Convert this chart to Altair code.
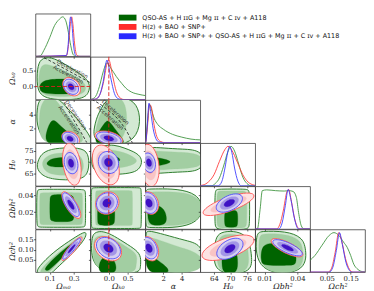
import math
import altair as alt
import pandas as pd

# ---------------- axes ----------------
TITLES = ["Ωₘ₀", "Ωₖ₀", "α", "H₀", "Ωbh²", "Ωch²"]
X_DOMAINS = [[-0.02, 0.44], [-0.49, 0.97], [0.05, 6.0], [59.0, 79.0], [0.0015, 0.0515], [-0.02, 0.21]]
Y_DOMAINS = [[0.0, 1.08], [-0.40, 0.91], [0.0, 6.0], [59.3, 78.5], [0.0, 0.051], [-0.01, 0.20]]
X_TICKS = [[0.1, 0.3], [0.0, 0.5], [2, 4], [64, 70, 76], [0.01, 0.04], [0.05, 0.15]]
Y_TICKS = [[0.5], [0.0, 0.5], [2, 4], [65, 70, 75], [0.02, 0.04], [0.05, 0.10, 0.15]]
X_FMT = [".1f", ".1f", "d", "d", ".2f", ".2f"]
Y_FMT = [".1f", ".1f", "d", "d", ".2f", ".2f"]

LEGEND_LABELS = [
    "QSO-AS + H ɪɪG + Mg ɪɪ + C ɪᴠ + A118",
    "H(z) + BAO + SNP+",
    "H(z) + BAO + SNP+ + QSO-AS + H ɪɪG + Mg ɪɪ + C ɪᴠ + A118",
]
LEGEND_COLORS = ["#006400", "#ff2a2a", "#2a2aff"]

# ---------------- 1D marginals ----------------
OM_G_X = [-0.02, 0.02, 0.05, 0.10, 0.14, 0.18, 0.208, 0.234, 0.256, 0.275, 0.295, 0.316, 0.44]
OM_G_Y = [0.0, 0.01, 0.15, 0.48, 0.78, 0.94, 1.0, 0.9, 0.6, 0.28, 0.05, 0.0, 0.0]
OM_R_X = [-0.02, 0.24, 0.257, 0.27, 0.283, 0.294, 0.305, 0.317, 0.33, 0.35, 0.44]
OM_R_Y = [0.0, 0.02, 0.3, 0.75, 1.0, 0.8, 0.4, 0.12, 0.02, 0.0, 0.0]
OM_B_X = [-0.02, 0.238, 0.254, 0.265, 0.275, 0.286, 0.297, 0.309, 0.321, 0.44]
OM_B_Y = [0.0, 0.02, 0.3, 0.8, 1.0, 0.8, 0.35, 0.08, 0.0, 0.0]

OK_G_X = [-0.49, -0.45, -0.35, -0.25, -0.15, -0.05, 0.05, 0.20, 0.35, 0.45, 0.60, 0.80, 0.97]
OK_G_Y = [0.0, 0.01, 0.08, 0.33, 0.7, 0.93, 0.8, 0.58, 0.4, 0.29, 0.19, 0.13, 0.1]
OK_R_X = [-0.49, -0.35, -0.25, -0.15, -0.05, 0.0, 0.1, 0.2, 0.3, 0.4, 0.97]
OK_R_Y = [0.0, 0.01, 0.1, 0.4, 0.9, 1.0, 0.6, 0.2, 0.04, 0.0, 0.0]
OK_B_X = [-0.49, -0.35, -0.25, -0.15, -0.05, 0.05, 0.15, 0.25, 0.35, 0.97]
OK_B_Y = [0.0, 0.01, 0.1, 0.45, 1.0, 0.55, 0.15, 0.02, 0.0, 0.0]

AL_G_X = [0.05, 0.1, 0.3, 0.5, 0.7, 1.0, 1.4, 2.0, 3.0, 4.0, 5.0, 6.0]
AL_G_Y = [0.0, 0.05, 0.55, 0.97, 0.85, 0.62, 0.46, 0.34, 0.21, 0.14, 0.09, 0.07]
AL_R_X = [0.05, 0.1, 0.3, 0.5, 0.7, 1.0, 1.3, 1.7, 2.2, 6.0]
AL_R_Y = [0.0, 0.02, 0.45, 0.97, 0.9, 0.45, 0.15, 0.03, 0.0, 0.0]
AL_B_X = [0.05, 0.1, 0.25, 0.45, 0.65, 0.9, 1.2, 1.5, 2.0, 6.0]
AL_B_Y = [0.0, 0.02, 0.4, 1.0, 0.75, 0.35, 0.1, 0.02, 0.0, 0.0]

H0_G_X = [59, 63, 64.5, 66, 67.5, 69, 70.2, 71.5, 73, 74.5, 76, 77.5, 79]
H0_G_Y = [0, 0, 0.06, 0.2, 0.5, 0.85, 1.0, 0.88, 0.55, 0.22, 0.06, 0.0, 0]
H0_R_X = [59, 60, 62, 64, 66, 68, 69.1, 70.5, 72.5, 74.5, 76.5, 78.5, 79]
H0_R_Y = [0.01, 0.02, 0.1, 0.28, 0.62, 0.92, 1.0, 0.9, 0.6, 0.28, 0.09, 0.02, 0.01]
H0_B_X = [59, 65.5, 66.8, 68, 69, 69.7, 70.5, 71.5, 72.7, 74, 79]
H0_B_Y = [0, 0, 0.1, 0.45, 0.85, 1.0, 0.85, 0.45, 0.12, 0, 0]

OB_G_X = [0.0015, 0.0035, 0.006, 0.008, 0.012, 0.02, 0.028, 0.032, 0.036, 0.039, 0.041, 0.0435, 0.046, 0.0515]
OB_G_Y = [0, 0, 0.5, 0.97, 0.99, 0.97, 0.96, 0.97, 0.95, 0.8, 0.42, 0.08, 0, 0]
OB_R_X = [0.0015, 0.021, 0.024, 0.027, 0.0305, 0.032, 0.0345, 0.0375, 0.0405, 0.042, 0.0515]
OB_R_Y = [0, 0, 0.12, 0.45, 0.95, 1.0, 0.7, 0.25, 0.03, 0, 0]
OB_B_X = [0.0015, 0.023, 0.026, 0.029, 0.0315, 0.034, 0.037, 0.0395, 0.041, 0.0515]
OB_B_Y = [0, 0, 0.15, 0.6, 1.0, 0.75, 0.3, 0.05, 0, 0]

OC_G_X = [-0.02, 0.0, 0.03, 0.06, 0.08, 0.1, 0.12, 0.136, 0.15, 0.163, 0.18, 0.2, 0.21]
OC_G_Y = [0.3, 0.42, 0.68, 0.93, 1.0, 0.93, 0.76, 0.62, 0.42, 0.2, 0.07, 0.01, 0]
OC_R_X = [-0.02, 0.055, 0.07, 0.085, 0.1, 0.112, 0.128, 0.145, 0.16, 0.21]
OC_R_Y = [0, 0, 0.1, 0.5, 1.0, 0.8, 0.35, 0.07, 0, 0]
OC_B_X = [-0.02, 0.06, 0.075, 0.09, 0.103, 0.115, 0.13, 0.145, 0.155, 0.21]
OC_B_Y = [0, 0, 0.12, 0.55, 1.0, 0.7, 0.25, 0.04, 0, 0]

# ---------------- 2D: green contours (outer, middle, inner) ----------------
G_OM_OK = [
    [[0.02, 0.86], [0.11, 0.92], [0.23, 0.68], [0.36, 0.38], [0.44, 0.12], [0.43, -0.2], [0.37, -0.42], [0.03, -0.42], [-0.01, 0.03], [-0.005, 0.55]],
    [[0.04, 0.74], [0.153, 0.59], [0.28, 0.38], [0.38, 0.17], [0.41, -0.03], [0.38, -0.3], [0.06, -0.34], [0.0, -0.07], [0.01, 0.45]],
    [[0.025, 0.19], [0.18, 0.24], [0.31, 0.21], [0.355, 0.08], [0.355, -0.13], [0.29, -0.24], [0.04, -0.24], [0.01, -0.07]],
]
G_OM_AL = [
    [[-0.012, 5.4], [0.03, 6.4], [0.17, 6.4], [0.23, 5.1], [0.31, 3.8], [0.42, 1.4], [0.45, 0.4], [0.45, -0.5], [-0.012, -0.5]],
    [[0.02, 5.2], [0.07, 6.4], [0.14, 6.4], [0.2, 4.8], [0.29, 3.0], [0.37, 1.3], [0.4, -0.5], [0.01, -0.5], [0.01, 3.0]],
    [[0.055, -0.5], [0.07, 1.5], [0.1, 2.8], [0.13, 3.3], [0.17, 2.7], [0.26, 1.3], [0.34, 0.3], [0.35, -0.5]],
]
G_OK_AL = [
    [[-0.44, -0.5], [-0.39, 2.4], [-0.28, 4.1], [-0.15, 5.3], [0.0, 6.4], [0.86, 6.4], [0.86, -0.5]],
    [[-0.41, -0.5], [-0.34, 2.2], [-0.22, 4.2], [-0.06, 5.8], [0.05, 6.4], [0.5, 6.4], [0.5, -0.5]],
    [[-0.42, -0.5], [-0.32, 1.2], [-0.12, 2.7], [-0.03, 3.3], [0.1, 2.4], [0.3, 1.0], [0.52, -0.5]],
]
G_OM_H0 = [
    [[0.0, 70.4], [0.028, 73.6], [0.1, 75.9], [0.262, 76.6], [0.405, 76.0], [0.432, 71.1], [0.422, 64.3], [0.345, 61.8], [0.12, 62.0], [0.025, 64.3], [-0.01, 67.5]],
    [[0.028, 69.7], [0.07, 72.7], [0.153, 74.1], [0.316, 74.4], [0.375, 71.9], [0.39, 66.8], [0.345, 64.0], [0.126, 64.0], [0.055, 66.0]],
    [[0.068, 69.7], [0.126, 72.1], [0.29, 72.1], [0.325, 69.7], [0.29, 67.7], [0.126, 67.7], [0.082, 68.4]],
]
G_OK_H0 = [
    [[-0.47, 71.2], [-0.38, 75.7], [-0.16, 77.5], [0.144, 77.8], [0.404, 76.4], [0.663, 74.7], [0.84, 72.7], [0.89, 69.8], [0.8, 66.4], [0.575, 64.9], [0.144, 64.3], [-0.21, 64.6], [-0.44, 66.9]],
    [[-0.38, 70.9], [-0.25, 75.2], [-0.03, 75.9], [0.404, 74.5], [0.75, 71.6], [0.75, 69.5], [0.404, 67.4], [-0.116, 66.6], [-0.334, 68.1]],
    [[-0.1, 72.6], [0.2, 72.6], [0.34, 71.1], [0.2, 69.3], [-0.1, 69.3]],
]
G_AL_H0 = [
    [[0.1, 72.0], [0.2, 75.6], [0.5, 76.8], [2.0, 76.3], [4.0, 75.8], [6.4, 75.4], [6.4, 65.9], [4.0, 65.6], [2.0, 65.1], [0.5, 64.6], [0.15, 66.5]],
    [[0.2, 71.0], [0.3, 74.3], [1.0, 75.1], [3.0, 74.5], [6.4, 74.0], [6.4, 67.3], [3.0, 66.9], [1.0, 66.2], [0.3, 66.7]],
    [[0.1, 70.0], [0.3, 72.3], [1.2, 72.1], [2.2, 71.3], [3.0, 70.1], [2.2, 68.9], [1.2, 68.1], [0.3, 67.9]],
]
G_OM_OB = [
    [[-0.01, 0.043], [0.0, 0.047], [0.02, 0.0475], [0.37, 0.0475], [0.395, 0.0465], [0.4, 0.043], [0.4, 0.007], [0.395, 0.0025], [0.37, 0.002], [0.02, 0.002], [0.0, 0.0025], [-0.01, 0.007]],
    [[0.015, 0.04], [0.02, 0.043], [0.04, 0.0435], [0.35, 0.0435], [0.37, 0.043], [0.375, 0.04], [0.375, 0.009], [0.37, 0.0055], [0.35, 0.005], [0.04, 0.005], [0.02, 0.0055], [0.015, 0.009]],
    [[0.1, 0.038], [0.11, 0.0415], [0.29, 0.0415], [0.305, 0.037], [0.305, 0.012], [0.29, 0.0085], [0.11, 0.0085], [0.1, 0.012]],
]
G_OK_OB = [
    [[-0.47, 0.045], [-0.45, 0.049], [-0.4, 0.0495], [0.8, 0.0495], [0.85, 0.049], [0.865, 0.045], [0.865, 0.005], [0.85, 0.001], [0.8, 0.0005], [-0.4, 0.0005], [-0.45, 0.001], [-0.47, 0.005]],
    [[-0.36, 0.042], [-0.34, 0.0455], [-0.3, 0.046], [0.58, 0.046], [0.62, 0.0455], [0.63, 0.042], [0.63, 0.008], [0.62, 0.0045], [0.58, 0.004], [-0.3, 0.004], [-0.34, 0.0045], [-0.36, 0.008]],
    [[-0.3, 0.026], [-0.28, 0.03], [0.12, 0.03], [0.16, 0.026], [0.16, 0.008], [0.12, 0.004], [-0.28, 0.004], [-0.3, 0.008]],
]
G_AL_OB = [
    [[0.08, 0.006], [0.08, 0.044], [0.2, 0.0475], [0.6, 0.048], [6.4, 0.048], [6.4, 0.0015], [0.6, 0.0015], [0.2, 0.002]],
    [[0.2, 0.008], [0.2, 0.041], [0.4, 0.044], [1.0, 0.0445], [6.4, 0.0445], [6.4, 0.004], [1.0, 0.004], [0.4, 0.0045]],
    [[0.3, 0.006], [0.3, 0.026], [0.6, 0.029], [1.6, 0.028], [2.2, 0.022], [2.4, 0.012], [2.2, 0.005], [1.2, 0.004]],
]
G_H0_OB = [
    [[64.3, 0.044], [64.8, 0.047], [66.0, 0.0478], [75.0, 0.0478], [76.5, 0.047], [77.0, 0.044], [77.0, 0.003], [76.5, -0.001], [64.8, -0.001], [64.3, 0.003]],
    [[65.0, 0.042], [65.5, 0.045], [66.5, 0.0455], [74.5, 0.0455], [75.5, 0.045], [76.0, 0.042], [76.0, 0.004], [75.5, 0.0005], [65.5, 0.0005], [65.0, 0.004]],
    [[67.8, 0.02], [68.5, 0.0225], [72.0, 0.0225], [72.7, 0.02], [72.7, 0.004], [72.0, 0.002], [68.5, 0.002], [67.8, 0.004]],
]
G_OM_OC = [
    [[-0.02, -0.02], [0.004, 0.016], [0.126, 0.087], [0.262, 0.143], [0.37, 0.183], [0.405, 0.188], [0.405, 0.165], [0.345, 0.115], [0.234, 0.051], [0.13, -0.005], [0.11, -0.02]],
    [[0.01, -0.02], [0.03, 0.01], [0.15, 0.077], [0.29, 0.14], [0.37, 0.172], [0.38, 0.16], [0.3, 0.115], [0.17, 0.04], [0.09, -0.02]],
    [[0.055, 0.0], [0.07, 0.018], [0.15, 0.068], [0.3, 0.14], [0.325, 0.133], [0.25, 0.088], [0.13, 0.018], [0.085, -0.005]],
]
G_OK_OC = [
    [[-0.47, -0.02], [-0.47, 0.16], [-0.38, 0.185], [-0.2, 0.193], [0.055, 0.178], [0.404, 0.137], [0.75, 0.097], [0.86, 0.065], [0.84, 0.015], [0.82, -0.02]],
    [[-0.43, -0.02], [-0.43, 0.14], [-0.35, 0.165], [-0.15, 0.172], [0.1, 0.157], [0.45, 0.117], [0.7, 0.087], [0.76, 0.06], [0.72, 0.02], [0.7, -0.02]],
    [[-0.3, -0.02], [-0.25, 0.045], [-0.1, 0.072], [0.1, 0.062], [0.19, 0.03], [0.21, -0.02]],
]
G_AL_OC = [
    [[0.08, -0.02], [0.08, 0.175], [0.2, 0.19], [0.56, 0.193], [1.97, 0.177], [4.42, 0.145], [6.4, 0.125], [6.4, -0.02]],
    [[0.2, -0.02], [0.2, 0.15], [0.4, 0.162], [1.5, 0.15], [3.5, 0.115], [6.4, 0.08], [6.4, -0.02]],
    [[0.1, -0.02], [0.1, 0.08], [0.5, 0.076], [1.5, 0.046], [2.5, 0.012], [2.7, -0.02]],
]
G_H0_OC = [
    [[65.6, 0.183], [69.8, 0.194], [74.5, 0.183], [76.9, 0.143], [77.9, 0.062], [77.6, -0.02], [64.3, -0.02], [64.0, 0.077], [64.4, 0.143]],
    [[66.3, 0.17], [69.8, 0.18], [73.8, 0.17], [76.0, 0.135], [76.8, 0.062], [76.4, -0.02], [65.3, -0.02], [65.1, 0.077], [65.4, 0.135]],
    [[67.0, 0.1], [69.5, 0.12], [72.3, 0.1], [72.8, 0.03], [72.2, -0.02], [67.3, -0.02], [66.8, 0.03]],
]
G_OB_OC = [
    [[0.002, 0.18], [0.006, 0.192], [0.03, 0.192], [0.044, 0.162], [0.048, 0.11], [0.048, -0.02], [0.002, -0.02]],
    [[0.0045, 0.168], [0.008, 0.179], [0.029, 0.179], [0.042, 0.152], [0.0455, 0.105], [0.0455, -0.02], [0.0045, -0.02]],
    [[0.007, 0.13], [0.02, 0.134], [0.03, 0.117], [0.039, 0.085], [0.039, 0.03], [0.035, 0.022], [0.009, 0.022], [0.0066, 0.04]],
]

# ---------------- 2D: red / blue contours (centre x, centre y, half-width, half-height, correlation) ----------------
R_OM_OK = [0.283, -0.005, 0.075, 0.285, -0.3]
B_OM_OK = [0.278, -0.01, 0.063, 0.235, -0.3]
R_OM_AL = [0.275, 0.6, 0.075, 1.0, -0.3]
B_OM_AL = [0.27, 0.55, 0.065, 0.9, -0.3]
R_OK_AL = [0.0, 0.65, 0.37, 1.0, -0.4]
B_OK_AL = [0.0, 0.6, 0.33, 0.9, -0.4]
R_OM_H0 = [0.285, 69.0, 0.078, 9.5, -0.3]
B_OM_H0 = [0.278, 69.5, 0.058, 4.8, -0.2]
R_OK_H0 = [-0.08, 68.7, 0.36, 9.0, -0.35]
B_OK_H0 = [-0.01, 69.8, 0.27, 5.0, -0.1]
R_AL_H0 = [0.5, 68.5, 1.05, 9.5, -0.2]
B_AL_H0 = [0.45, 69.7, 0.7, 4.4, -0.2]
R_OM_OB = [0.28, 0.0285, 0.08, 0.016, -0.75]
B_OM_OB = [0.277, 0.029, 0.07, 0.0143, -0.75]
R_OK_OB = [-0.04, 0.031, 0.31, 0.0135, 0.1]
B_OK_OB = [-0.05, 0.031, 0.28, 0.0123, 0.1]
R_AL_OB = [0.5, 0.031, 1.0, 0.0135, -0.2]
B_AL_OB = [0.45, 0.031, 0.9, 0.0125, -0.2]
R_H0_OB = [69.3, 0.0295, 9.3, 0.0135, 0.75]
B_H0_OB = [69.6, 0.031, 4.8, 0.011, 0.5]
R_OM_OC = [0.285, 0.105, 0.085, 0.058, 0.9]
B_OM_OC = [0.283, 0.105, 0.075, 0.052, 0.93]
R_OK_OC = [-0.02, 0.105, 0.36, 0.06, -0.3]
B_OK_OC = [-0.01, 0.108, 0.32, 0.053, -0.3]
R_AL_OC = [0.5, 0.105, 1.0, 0.06, -0.3]
B_AL_OC = [0.45, 0.108, 0.9, 0.053, -0.3]
R_H0_OC = [69.1, 0.11, 9.5, 0.063, 0.6]
B_H0_OC = [69.8, 0.105, 4.8, 0.052, 0.45]
R_OB_OC = [0.0305, 0.11, 0.0145, 0.045, -0.75]
B_OB_OC = [0.031, 0.11, 0.0135, 0.04, -0.75]

# ---------------- deceleration / acceleration boundary (q0 = 0) ----------------
Q0_OM_OK_X = [-0.02, 0.44]
Q0_OM_OK_Y = [1.03, 0.115]
Q0_OM_AL_X = [0.2, 0.29, 0.36, 0.41]
Q0_OM_AL_Y = [6.3, 3.5, 1.5, 0.0]
Q0_OK_AL_X = [-0.45, -0.33, -0.03, 0.315, 0.53, 0.63]
Q0_OK_AL_Y = [6.1, 5.73, 4.63, 2.84, 1.07, -0.1]
Q0_LABELS = ["Deceleration", "Acceleration"]
Q0_OM_OK_TXT = [[0.29, 0.54], [0.255, 0.37]]
Q0_OM_AL_TXT = [[0.32, 3.9], [0.262, 3.2]]
Q0_OK_AL_TXT = [[0.18, 4.3], [0.04, 3.5]]

# ---------------- styling ----------------
W, H = 56, 43.5
BORDER = "#3c3c3c"
INK = "#222222"
AX_FONT = "DejaVu Serif"
G_FILLS = ["#d3e9d3", "#a2cea2", "#006400"]
G_EDGE = "#2e7d2e"
R_FILLS = ["#fde2e2", "#f9c4c4", "#f5a3a3"]
R_EDGE = "#ff5050"
B_FILLS = ["#d6d0f2", "#a396e6", "#3f12c4"]
B_EDGE = "#4a4aff"
LINE_COLORS = ["#3f943f", "#ff3b3b", "#3b3bff"]
LEVELS = [1.0, 0.7, 0.4]

MARGINALS = [
    [(OM_G_X, OM_G_Y), (OM_R_X, OM_R_Y), (OM_B_X, OM_B_Y)],
    [(OK_G_X, OK_G_Y), (OK_R_X, OK_R_Y), (OK_B_X, OK_B_Y)],
    [(AL_G_X, AL_G_Y), (AL_R_X, AL_R_Y), (AL_B_X, AL_B_Y)],
    [(H0_G_X, H0_G_Y), (H0_R_X, H0_R_Y), (H0_B_X, H0_B_Y)],
    [(OB_G_X, OB_G_Y), (OB_R_X, OB_R_Y), (OB_B_X, OB_B_Y)],
    [(OC_G_X, OC_G_Y), (OC_R_X, OC_R_Y), (OC_B_X, OC_B_Y)],
]
PANELS = {
    (0, 1): (G_OM_OK, R_OM_OK, B_OM_OK),
    (0, 2): (G_OM_AL, R_OM_AL, B_OM_AL),
    (1, 2): (G_OK_AL, R_OK_AL, B_OK_AL),
    (0, 3): (G_OM_H0, R_OM_H0, B_OM_H0),
    (1, 3): (G_OK_H0, R_OK_H0, B_OK_H0),
    (2, 3): (G_AL_H0, R_AL_H0, B_AL_H0),
    (0, 4): (G_OM_OB, R_OM_OB, B_OM_OB),
    (1, 4): (G_OK_OB, R_OK_OB, B_OK_OB),
    (2, 4): (G_AL_OB, R_AL_OB, B_AL_OB),
    (3, 4): (G_H0_OB, R_H0_OB, B_H0_OB),
    (0, 5): (G_OM_OC, R_OM_OC, B_OM_OC),
    (1, 5): (G_OK_OC, R_OK_OC, B_OK_OC),
    (2, 5): (G_AL_OC, R_AL_OC, B_AL_OC),
    (3, 5): (G_H0_OC, R_H0_OC, B_H0_OC),
    (4, 5): (G_OB_OC, R_OB_OC, B_OB_OC),
}
Q0 = {
    (0, 1): (Q0_OM_OK_X, Q0_OM_OK_Y, Q0_OM_OK_TXT, 28),
    (0, 2): (Q0_OM_AL_X, Q0_OM_AL_Y, Q0_OM_AL_TXT, 56),
    (1, 2): (Q0_OK_AL_X, Q0_OK_AL_Y, Q0_OK_AL_TXT, 42),
}


def x_enc(c, show):
    ax = alt.Axis(values=X_TICKS[c], format=X_FMT[c], labels=show,
                  title=TITLES[c] if show else None,
                  ticks=True, tickSize=2, tickWidth=0.7, tickColor=INK, domain=False, grid=False,
                  labelFont=AX_FONT, labelFontSize=7, labelColor=INK, labelPadding=0.5,
                  labelOverlap=False, labelFlush=False,
                  titleFont=AX_FONT, titleFontSize=8, titleFontStyle="italic",
                  titleFontWeight="normal", titlePadding=1, titleColor=INK)
    return alt.X("x:Q", scale=alt.Scale(domain=X_DOMAINS[c], nice=False, zero=False), axis=ax)


def y_enc(r, show):
    ax = alt.Axis(values=Y_TICKS[r], format=Y_FMT[r], labels=show,
                  title=TITLES[r] if show else None,
                  ticks=True, tickSize=2, tickWidth=0.7, tickColor=INK, domain=False, grid=False,
                  labelFont=AX_FONT, labelFontSize=7, labelColor=INK, labelPadding=0.5,
                  labelOverlap=False, labelFlush=False,
                  titleFont=AX_FONT, titleFontSize=8, titleFontStyle="italic",
                  titleFontWeight="normal", titleColor=INK,
                  titleX=-19, titleY=H / 2, titleAngle=270, titleAlign="center",
                  titleBaseline="bottom")
    return alt.Y("y:Q", scale=alt.Scale(domain=Y_DOMAINS[r], nice=False, zero=False), axis=ax)


def ellipse(p, s, n=40):
    cx, cy, ax, ay, rho = p
    q = math.sqrt(1 - rho * rho)
    pts = []
    for k in range(n):
        t = 2 * math.pi * k / n
        pts.append([cx + s * ax * math.cos(t), cy + s * ay * (rho * math.cos(t) + q * math.sin(t))])
    return pts


def shape(verts, fill, stroke, sw, xe, ye):
    df = pd.DataFrame({"x": [v[0] for v in verts], "y": [v[1] for v in verts],
                       "o": list(range(len(verts)))})
    return alt.Chart(df).mark_line(interpolate="basis-closed", fill=fill, stroke=stroke,
                                   strokeWidth=sw, clip=True).encode(x=xe, y=ye, order="o:Q")


def panel2d(c, r):
    xe = x_enc(c, r == 5)
    ye = y_enc(r, c == 0)
    green, red, blue = PANELS[(c, r)]
    layers = []
    for i, verts in enumerate(green):
        layers.append(shape(verts, G_FILLS[i], G_EDGE if i == 0 else G_FILLS[i], 1.0 if i == 0 else 0.3, xe, ye))
    for i, s in enumerate(LEVELS):
        layers.append(shape(ellipse(red, s), R_FILLS[i], R_EDGE if i == 0 else R_FILLS[i], 0.9 if i == 0 else 0.3, xe, ye))
    for i, s in enumerate(LEVELS):
        layers.append(shape(ellipse(blue, s), B_FILLS[i], B_EDGE if i == 0 else B_FILLS[i], 0.9 if i == 0 else 0.3, xe, ye))
    if c == 1:
        layers.append(alt.Chart(pd.DataFrame({"x": [0.0]})).mark_rule(
            color="#e01b1b", strokeDash=[4, 2], strokeWidth=0.9).encode(x=xe))
    if r == 1:
        layers.append(alt.Chart(pd.DataFrame({"y": [0.0]})).mark_rule(
            color="#e01b1b", strokeDash=[4, 2], strokeWidth=0.9).encode(y=ye))
    if (c, r) in Q0:
        qx, qy, txt, ang = Q0[(c, r)]
        layers.append(alt.Chart(pd.DataFrame({"x": qx, "y": qy})).mark_line(
            color="#111111", strokeDash=[3, 2], strokeWidth=0.8, interpolate="monotone",
            clip=True).encode(x=xe, y=ye))
        tdf = pd.DataFrame({"x": [t[0] for t in txt], "y": [t[1] for t in txt], "t": Q0_LABELS})
        layers.append(alt.Chart(tdf).mark_text(angle=ang, font="DejaVu Sans", fontSize=5.5,
                                               color="#333333").encode(x=xe, y=ye, text="t:N"))
    return alt.layer(*layers).properties(width=W, height=H,
                                         view=alt.ViewBackground(stroke=BORDER, strokeWidth=0.8))


def panel1d(c):
    xe = x_enc(c, c == 5)
    ye = alt.Y("h:Q", scale=alt.Scale(domain=[0, 1.08], nice=False, zero=False), axis=None)
    layers = []
    for (xs, ys), col in zip(MARGINALS[c], LINE_COLORS):
        df = pd.DataFrame({"x": xs, "h": ys})
        layers.append(alt.Chart(df).mark_line(interpolate="monotone", color=col, strokeWidth=0.9,
                                              clip=True).encode(x=xe, y=ye))
    if c == 1:
        layers.append(alt.Chart(pd.DataFrame({"x": [0.0]})).mark_rule(
            color="#e01b1b", strokeDash=[4, 2], strokeWidth=0.9).encode(x=xe))
    return alt.layer(*layers).properties(width=W, height=H,
                                         view=alt.ViewBackground(stroke=BORDER, strokeWidth=0.8))


def blank(with_legend):
    base = alt.Chart(pd.DataFrame({"lab": LEGEND_LABELS}))
    if with_legend:
        ch = base.mark_square(opacity=0).encode(
            x=alt.value(0), y=alt.value(0),
            color=alt.Color("lab:N", sort=LEGEND_LABELS,
                            scale=alt.Scale(domain=LEGEND_LABELS, range=LEGEND_COLORS),
                            legend=alt.Legend(title=None, orient="none", legendX=34, legendY=0,
                                              symbolType="M-2.25,-0.75H2.25V0.75H-2.25Z", symbolSize=64,
                                              symbolOpacity=1, symbolStrokeWidth=0,
                                              labelFont="DejaVu Sans", labelFontSize=6.5,
                                              labelColor="#111111", labelLimit=400,
                                              rowPadding=1.5, labelOffset=11, padding=0)))
    else:
        ch = base.mark_point(opacity=0).encode(x=alt.value(0), y=alt.value(0))
    return ch.properties(width=W, height=H)


cells = []
for r in range(6):
    for c in range(6):
        if c > r:
            cells.append(blank(r == 0 and c == 1))
        elif c == r:
            cells.append(panel1d(c))
        else:
            cells.append(panel2d(c, r))

chart = alt.concat(*cells, columns=6, spacing=0, bounds="flush").resolve_scale(
    x="independent", y="independent", color="independent").resolve_legend(color="independent")
chart = chart.properties(padding={"left": 0, "top": 0, "right": 0, "bottom": 0}).configure_view(stroke=None)

chart.save("out.html", embed_options={"renderer": "svg", "actions": False})
